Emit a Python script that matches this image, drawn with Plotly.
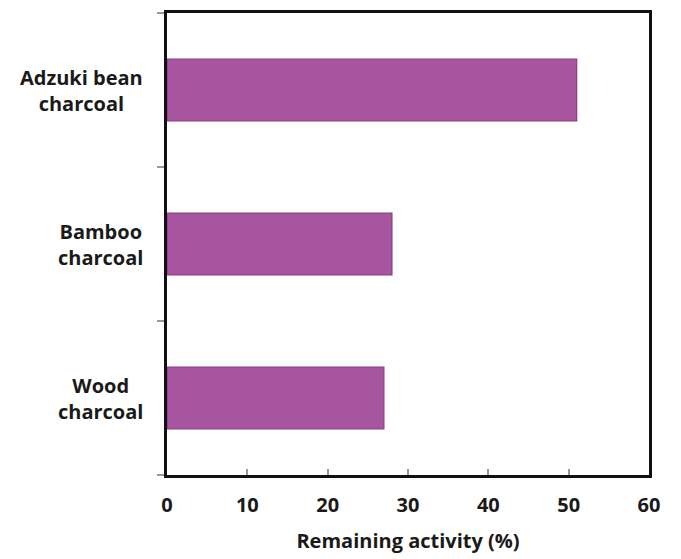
import plotly.graph_objects as go

categories = ["Wood<br>charcoal", "Bamboo<br>charcoal", "Adzuki bean<br>charcoal"]
values = [27, 28, 51]
x_ticks = [0, 10, 20, 30, 40, 50, 60]
x_title = "Remaining activity (%)"

FONT = "'Open Sans', Lato, sans-serif"

fig = go.Figure()
fig.add_trace(go.Bar(
    x=values, y=categories, orientation="h", width=0.4,
    marker=dict(color="#A855A0", line=dict(color="#8A3A85", width=1.2)),
))

for c in categories:
    fig.add_annotation(
        x=0, xref="paper", y=c, yref="y", xshift=-22,
        xanchor="right", yanchor="middle", align="center",
        text="<b>" + c + "</b>", showarrow=False,
        font=dict(family=FONT, size=20, color="#1a1a1a"),
    )

fig.update_layout(
    width=673, height=551,
    margin=dict(l=159, r=32, t=2, b=84),
    plot_bgcolor="white", paper_bgcolor="white",
    showlegend=False,
    font=dict(family=FONT, size=19, color="#1a1a1a"),
)
fig.update_xaxes(
    range=[0, 60], tickvals=x_ticks,
    ticktext=["<b>%d</b>" % v for v in x_ticks],
    ticks="inside", ticklen=6, tickcolor="#999", tickwidth=1.5,
    showline=True, mirror=True, linecolor="#111", linewidth=2.5,
    showgrid=False, zeroline=False,
    ticklabelstandoff=10,
    title=dict(text="<b>" + x_title + "</b>", standoff=18,
               font=dict(family=FONT, size=20, color="#1a1a1a")),
    tickfont=dict(family=FONT, size=20, color="#1a1a1a"),
)
fig.update_yaxes(
    type="category", categoryorder="array", categoryarray=categories,
    tickson="boundaries", ticks="outside", ticklen=7, tickcolor="#999", tickwidth=1.5,
    showticklabels=False,
    showline=True, mirror=True, linecolor="#111", linewidth=2.5,
    showgrid=False, zeroline=False,
)

fig.write_html("out.html")
